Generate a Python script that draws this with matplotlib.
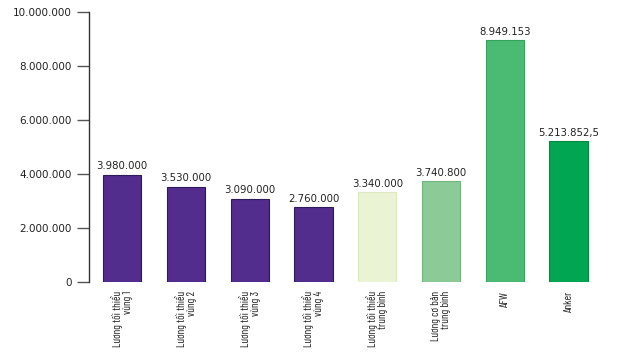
import matplotlib
matplotlib.use("Agg")
import matplotlib.pyplot as plt
from matplotlib.ticker import FuncFormatter
from matplotlib import font_manager as fm

categories = ["Lương tối thiểu\nvùng 1", "Lương tối thiểu\nvùng 2", "Lương tối thiểu\nvùng 3",
              "Lương tối thiểu\nvùng 4", "Lương tối thiểu\ntrung bình", "Lương cơ bản\ntrung bình",
              "AFW", "Anker"]
values = [3980000, 3530000, 3090000, 2760000, 3340000, 3740800, 8949153, 5213852.5]
value_labels = ["3.980.000", "3.530.000", "3.090.000", "2.760.000", "3.340.000", "3.740.800",
                "8.949.153", "5.213.852,5"]
colors = ["#532D8E", "#532D8E", "#532D8E", "#532D8E", "#EBF3D5", "#8CCB98", "#4BBA72", "#00A651"]
edges = ["#2E1A5A", "#2E1A5A", "#2E1A5A", "#2E1A5A", "#DCE8C0", "#6FB57E", "#34A35C", "#00893F"]
yticks = [0, 2000000, 4000000, 6000000, 8000000, 10000000]

# pick an upright regular condensed face for the category labels
label_prop = None
for fam in ["Barlow Condensed", "Roboto Condensed", "Archivo Narrow"]:
    cands = [f for f in fm.fontManager.ttflist
             if f.name == fam and f.style == "normal" and "italic" not in f.fname.lower()]
    if cands:
        cands.sort(key=lambda f: abs((f.weight if isinstance(f.weight, int) else 400) - 400))
        label_prop = fm.FontProperties(fname=cands[0].fname, size=8.0)
        break
if label_prop is None:
    label_prop = fm.FontProperties(family="DejaVu Sans", size=7.0)

fig = plt.figure(figsize=(6.24, 3.53), dpi=100)
ax = fig.add_axes([0.1426, 0.2011, 0.83, 0.765])

x = list(range(len(categories)))
ax.bar(x, values, width=0.6, color=colors, edgecolor=edges, linewidth=0.8)

for xi, v, lab in zip(x, values, value_labels):
    ax.text(xi, v + 120000, lab, ha="center", va="bottom", fontsize=7.3, color="#222222")

ax.set_ylim(0, 10000000)
ax.set_xlim(-0.52, 7.6)
ax.set_yticks(yticks)
ax.yaxis.set_major_formatter(FuncFormatter(lambda v, p: f"{int(v):,}".replace(",", ".")))
ax.tick_params(axis="y", length=8.6, width=1, color="#555555", labelsize=7.5, labelcolor="#222222", pad=3.6)

ax.set_xticks(x)
ax.set_xticklabels([])
ax.tick_params(axis="x", length=0)
for xi, c in zip(x, categories):
    ax.text(xi, -330000, c, rotation=90, ha="center", va="top", multialignment="right",
            fontproperties=label_prop, color="#222222", linespacing=1.0)

for s in ["top", "right", "bottom"]:
    ax.spines[s].set_visible(False)
ax.spines["left"].set_color("#333333")
ax.spines["left"].set_linewidth(1)

fig.savefig("out.png", dpi=100)
